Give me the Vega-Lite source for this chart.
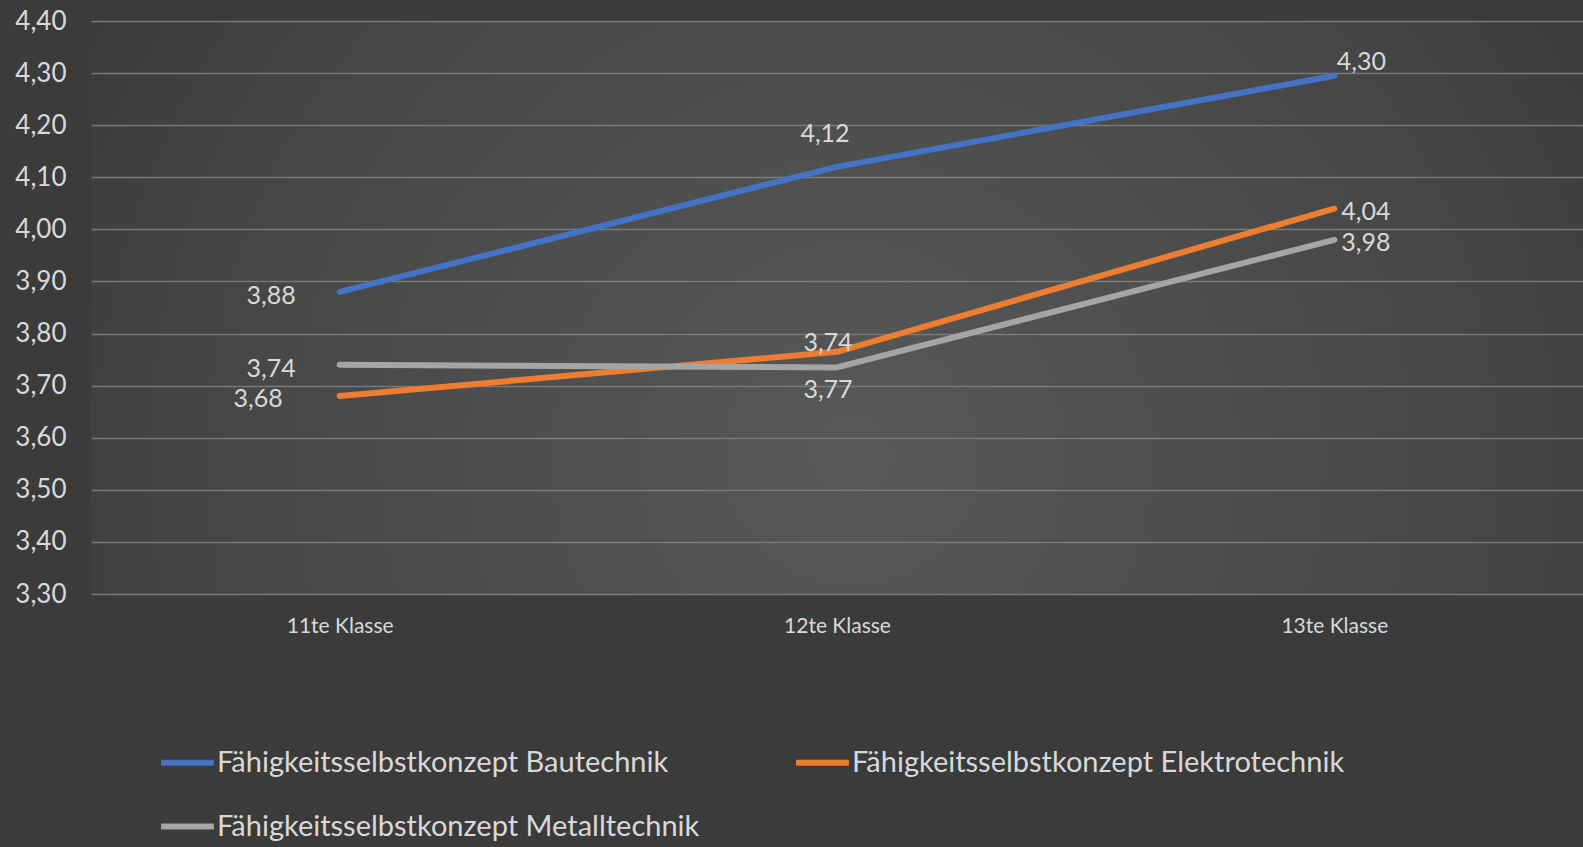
{
  "$schema": "https://vega.github.io/schema/vega-lite/v6.json",
  "width": 1492,
  "height": 573,
  "autosize": {"type": "none"},
  "padding": {"left": 91, "top": 21, "right": 0, "bottom": 253},
  "background": "#3b3b3b",
  "config": {
    "locale": {"number": {"decimal": ",", "thousands": ".", "grouping": [3], "currency": ["", " €"]}},
    "font": "Lato",
    "view": {
      "stroke": null,
      "fill": {
        "gradient": "radial",
        "x1": 0.51, "y1": 0.6, "r1": 0,
        "x2": 0.51, "y2": 0.6, "r2": 0.8,
        "stops": [
          {"offset": 0, "color": "#575858"},
          {"offset": 0.55, "color": "#454545"},
          {"offset": 1, "color": "#2c2c2c"}
        ]
      }
    }
  },
  "data": {
    "values": [
      {"Klasse": "11te Klasse", "Reihe": "Fähigkeitsselbstkonzept Bautechnik", "Wert": 3.88, "Label": "3,88"},
      {"Klasse": "12te Klasse", "Reihe": "Fähigkeitsselbstkonzept Bautechnik", "Wert": 4.12, "Label": "4,12"},
      {"Klasse": "13te Klasse", "Reihe": "Fähigkeitsselbstkonzept Bautechnik", "Wert": 4.295, "Label": "4,30"},
      {"Klasse": "11te Klasse", "Reihe": "Fähigkeitsselbstkonzept Elektrotechnik", "Wert": 3.68, "Label": "3,68"},
      {"Klasse": "12te Klasse", "Reihe": "Fähigkeitsselbstkonzept Elektrotechnik", "Wert": 3.765, "Label": "3,74"},
      {"Klasse": "13te Klasse", "Reihe": "Fähigkeitsselbstkonzept Elektrotechnik", "Wert": 4.04, "Label": "4,04"},
      {"Klasse": "11te Klasse", "Reihe": "Fähigkeitsselbstkonzept Metalltechnik", "Wert": 3.74, "Label": "3,74"},
      {"Klasse": "12te Klasse", "Reihe": "Fähigkeitsselbstkonzept Metalltechnik", "Wert": 3.735, "Label": "3,77"},
      {"Klasse": "13te Klasse", "Reihe": "Fähigkeitsselbstkonzept Metalltechnik", "Wert": 3.98, "Label": "3,98"}
    ]
  },
  "encoding": {
    "x": {
      "field": "Klasse", "type": "nominal", "sort": null,
      "scale": {"type": "point", "padding": 0.5},
      "axis": {"title": null, "domain": false, "ticks": false, "grid": false, "labelAngle": 0,
               "labelFontSize": 21, "labelColor": "#d9d9d9", "labelPadding": 21}
    },
    "y": {
      "field": "Wert", "type": "quantitative",
      "scale": {"domain": [3.3, 4.4], "nice": false, "zero": false},
      "axis": {"title": null, "domain": false, "ticks": false, "format": ".2f",
               "values": [3.3, 3.4, 3.5, 3.6, 3.7, 3.8, 3.9, 4.0, 4.1, 4.2, 4.3, 4.4],
               "labelFontSize": 26, "labelColor": "#d9d9d9", "labelPadding": 25,
               "gridColor": "#7a7a7a", "gridWidth": 1.5}
    }
  },
  "layer": [
    {
      "mark": {"type": "line", "strokeWidth": 6, "strokeCap": "round", "strokeJoin": "round"},
      "encoding": {
        "color": {
          "field": "Reihe", "type": "nominal",
          "scale": {"domain": ["Fähigkeitsselbstkonzept Bautechnik", "Fähigkeitsselbstkonzept Elektrotechnik", "Fähigkeitsselbstkonzept Metalltechnik"],
                    "range": ["#4472C4", "#ED7D31", "#A5A5A5"]},
          "legend": {
            "title": null, "orient": "none", "legendX": 67, "legendY": 712,
            "direction": "horizontal", "columns": 2, "columnPadding": 84, "rowPadding": 19,
            "symbolType": "stroke", "symbolSize": 2800, "symbolStrokeWidth": 6,
            "labelFontSize": 29, "labelColor": "#d9d9d9", "labelOffset": 0, "labelLimit": 800
          }
        }
      }
    },
    {
      "transform": [{"filter": "datum.Klasse === '11te Klasse' && datum.Reihe !== 'Fähigkeitsselbstkonzept Elektrotechnik'"}],
      "mark": {"type": "text", "align": "right", "baseline": "middle", "dx": -44, "dy": 4, "fontSize": 25, "color": "#d9d9d9"},
      "encoding": {"text": {"field": "Label"}}
    },
    {
      "transform": [{"filter": "datum.Klasse === '11te Klasse' && datum.Reihe === 'Fähigkeitsselbstkonzept Elektrotechnik'"}],
      "mark": {"type": "text", "align": "right", "baseline": "middle", "dx": -57, "dy": 3, "fontSize": 25, "color": "#d9d9d9"},
      "encoding": {"text": {"field": "Label"}}
    },
    {
      "transform": [{"filter": "datum.Klasse === '12te Klasse' && datum.Reihe === 'Fähigkeitsselbstkonzept Bautechnik'"}],
      "mark": {"type": "text", "align": "center", "baseline": "middle", "dx": -12, "dy": -33, "fontSize": 25, "color": "#d9d9d9"},
      "encoding": {"text": {"field": "Label"}}
    },
    {
      "transform": [{"filter": "datum.Klasse === '12te Klasse' && datum.Reihe === 'Fähigkeitsselbstkonzept Elektrotechnik'"}],
      "mark": {"type": "text", "align": "center", "baseline": "middle", "dx": -9, "dy": -9, "fontSize": 25, "color": "#d9d9d9"},
      "encoding": {"text": {"field": "Label"}}
    },
    {
      "transform": [{"filter": "datum.Klasse === '12te Klasse' && datum.Reihe === 'Fähigkeitsselbstkonzept Metalltechnik'"}],
      "mark": {"type": "text", "align": "center", "baseline": "middle", "dx": -9, "dy": 23, "fontSize": 25, "color": "#d9d9d9"},
      "encoding": {"text": {"field": "Label"}}
    },
    {
      "transform": [{"filter": "datum.Klasse === '13te Klasse' && datum.Reihe === 'Fähigkeitsselbstkonzept Bautechnik'"}],
      "mark": {"type": "text", "align": "center", "baseline": "middle", "dx": 27, "dy": -14, "fontSize": 25, "color": "#d9d9d9"},
      "encoding": {"text": {"field": "Label"}}
    },
    {
      "transform": [{"filter": "datum.Klasse === '13te Klasse' && datum.Reihe !== 'Fähigkeitsselbstkonzept Bautechnik'"}],
      "mark": {"type": "text", "align": "left", "baseline": "middle", "dx": 7, "dy": 3, "fontSize": 25, "color": "#d9d9d9"},
      "encoding": {"text": {"field": "Label"}}
    }
  ]
}
